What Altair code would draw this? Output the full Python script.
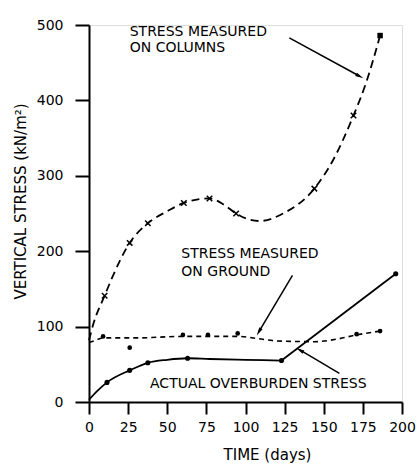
import altair as alt
import pandas as pd

# ---- data ----
col_curve_days = [0, 3, 10, 15, 26, 37.6, 50, 60.6, 77, 86, 94, 101, 109, 124, 144, 156, 169, 177, 186]
col_curve_vals = [82, 105, 141, 166, 211, 237, 253, 264, 270, 262, 250, 243, 240, 250, 283, 321, 380, 423, 486]
col_mark_days = [10, 26, 37.6, 60.6, 77, 94, 144, 169]
col_mark_vals = [141, 211, 237, 264, 270, 250, 283, 380]
col_end_day = [186]
col_end_val = [486]

gr_curve_days = [0, 3, 9, 30, 60, 77, 95, 108, 120, 144, 160, 171, 186]
gr_curve_vals = [79, 81, 85, 85, 87, 87, 87, 84, 81, 80, 84, 89, 94]
gr_mark_days = [9, 26, 60, 76, 95, 171, 186]
gr_mark_vals = [87, 72, 89, 89, 91, 90, 94]

ob_curve_days = [0, 5, 11.5, 26, 37.6, 50, 63, 77, 100, 123, 123, 196]
ob_curve_vals = [3, 14, 26, 42, 52, 56, 58, 57, 56, 55, 55, 170]
ob_curve_seg = [1, 1, 1, 1, 1, 1, 1, 1, 1, 1, 2, 2]
ob_mark_days = [11.5, 26, 37.6, 63, 123, 196]
ob_mark_vals = [26, 42, 52, 58, 55, 170]

x_ticks = [0, 25, 50, 75, 100, 125, 150, 175, 200]
y_ticks = [0, 100, 200, 300, 400, 500]

label_text = ["STRESS MEASURED", "ON COLUMNS", "STRESS  MEASURED", "ON GROUND", "ACTUAL OVERBURDEN STRESS"]
label_day = [26, 26, 59, 59, 39]
label_val = [491, 470, 196, 173, 24]

arrow_x0 = [128, 130, 160]
arrow_y0 = [483, 168, 38]
arrow_x1 = [173, 108.5, 134.7]
arrow_y1 = [432, 93, 69]
arrow_angle = [118, 211, 300]

FONT = "DejaVu Sans"

xs = alt.Scale(domain=[0, 200], nice=False, zero=False)
ys = alt.Scale(domain=[0, 500], nice=False, zero=False)

xax = alt.Axis(values=x_ticks, title="TIME (days)", grid=False, domainWidth=2, tickWidth=2,
               tickSize=12, labelPadding=6, labelFontSize=14, labelFont=FONT, labelColor="black",
               labelOverlap=False, labelFlush=False,
               titleFont=FONT, titleFontSize=15, titleFontWeight="normal", titleColor="black",
               titleX=178, titleY=52, titleBaseline="middle", titleAnchor="start", titleAlign="center",
               domainColor="black", tickColor="black")
yax = alt.Axis(values=y_ticks, title="VERTICAL STRESS (kN/m²)", grid=False, domainWidth=2, tickWidth=2,
               tickSize=14, labelPadding=12, labelFontSize=14, labelFont=FONT, labelColor="black",
               labelOverlap=False, labelFlush=False,
               titleFont=FONT, titleFontSize=15, titleFontWeight="normal", titleColor="black",
               titleX=-69, titleY=176, titleAngle=-90, titleBaseline="middle", titleAlign="center",
               titleAnchor="start", domainColor="black", tickColor="black")

col_curve = pd.DataFrame({"d": col_curve_days, "v": col_curve_vals})
col_mark = pd.DataFrame({"d": col_mark_days, "v": col_mark_vals})
col_end = pd.DataFrame({"d": col_end_day, "v": col_end_val})
gr_curve = pd.DataFrame({"d": gr_curve_days, "v": gr_curve_vals})
gr_mark = pd.DataFrame({"d": gr_mark_days, "v": gr_mark_vals})
ob_curve = pd.DataFrame({"d": ob_curve_days, "v": ob_curve_vals, "s": ob_curve_seg})
ob_mark = pd.DataFrame({"d": ob_mark_days, "v": ob_mark_vals})
labels = pd.DataFrame({"t": label_text, "d": label_day, "v": label_val})
arrows = pd.DataFrame({"x0": arrow_x0, "y0": arrow_y0, "x1": arrow_x1, "y1": arrow_y1, "a": arrow_angle})

X = alt.X("d:Q", scale=xs, axis=xax)
Y = alt.Y("v:Q", scale=ys, axis=yax)

l_col = alt.Chart(col_curve).mark_line(interpolate="monotone", color="black", strokeWidth=1.8,
                                        strokeDash=[8, 5]).encode(x=X, y=Y)
m_col = alt.Chart(col_mark).mark_point(shape="M-1,-1L1,1M-1,1L1,-1", filled=False, color="black",
                                        strokeWidth=1.5, size=30, opacity=1).encode(x=X, y=Y)
e_col = alt.Chart(col_end).mark_square(color="black", size=30, opacity=1).encode(x=X, y=Y)

l_gr = alt.Chart(gr_curve).mark_line(interpolate="monotone", color="black", strokeWidth=1.6,
                                      strokeDash=[5, 4]).encode(x=X, y=Y)
m_gr = alt.Chart(gr_mark).mark_circle(color="black", size=22, opacity=1).encode(x=X, y=Y)

l_ob = alt.Chart(ob_curve).mark_line(interpolate="monotone", color="black", strokeWidth=1.8).encode(
    x=X, y=Y, detail="s:N")
m_ob = alt.Chart(ob_mark).mark_circle(color="black", size=26, opacity=1).encode(x=X, y=Y)

txt = alt.Chart(labels).mark_text(align="left", baseline="middle", font=FONT, fontSize=14,
                                  color="black").encode(x=X, y=Y, text="t:N")

ar_line = alt.Chart(arrows).mark_rule(color="black", strokeWidth=1.5).encode(
    x=alt.X("x0:Q", scale=xs, axis=xax), y=alt.Y("y0:Q", scale=ys, axis=yax),
    x2="x1:Q", y2="y1:Q")
ar_head = alt.Chart(arrows).mark_point(shape="M0,-1L0.45,1L-0.45,1Z", filled=True, color="black",
                                        size=70, opacity=1).encode(
    x=alt.X("x1:Q", scale=xs, axis=xax), y=alt.Y("y1:Q", scale=ys, axis=yax),
    angle=alt.Angle("a:Q", scale=None))

chart = alt.layer(l_col, m_col, e_col, l_gr, m_gr, l_ob, m_ob, txt, ar_line, ar_head).properties(
    width=313, height=377,
    padding={"left": 89, "top": 25, "right": 16, "bottom": 64},
    autosize=alt.AutoSizeParams(type="none"),
).configure_view(stroke=None).configure(background="white")

chart.save("out.html", embed_options={"renderer": "svg", "actions": False})
